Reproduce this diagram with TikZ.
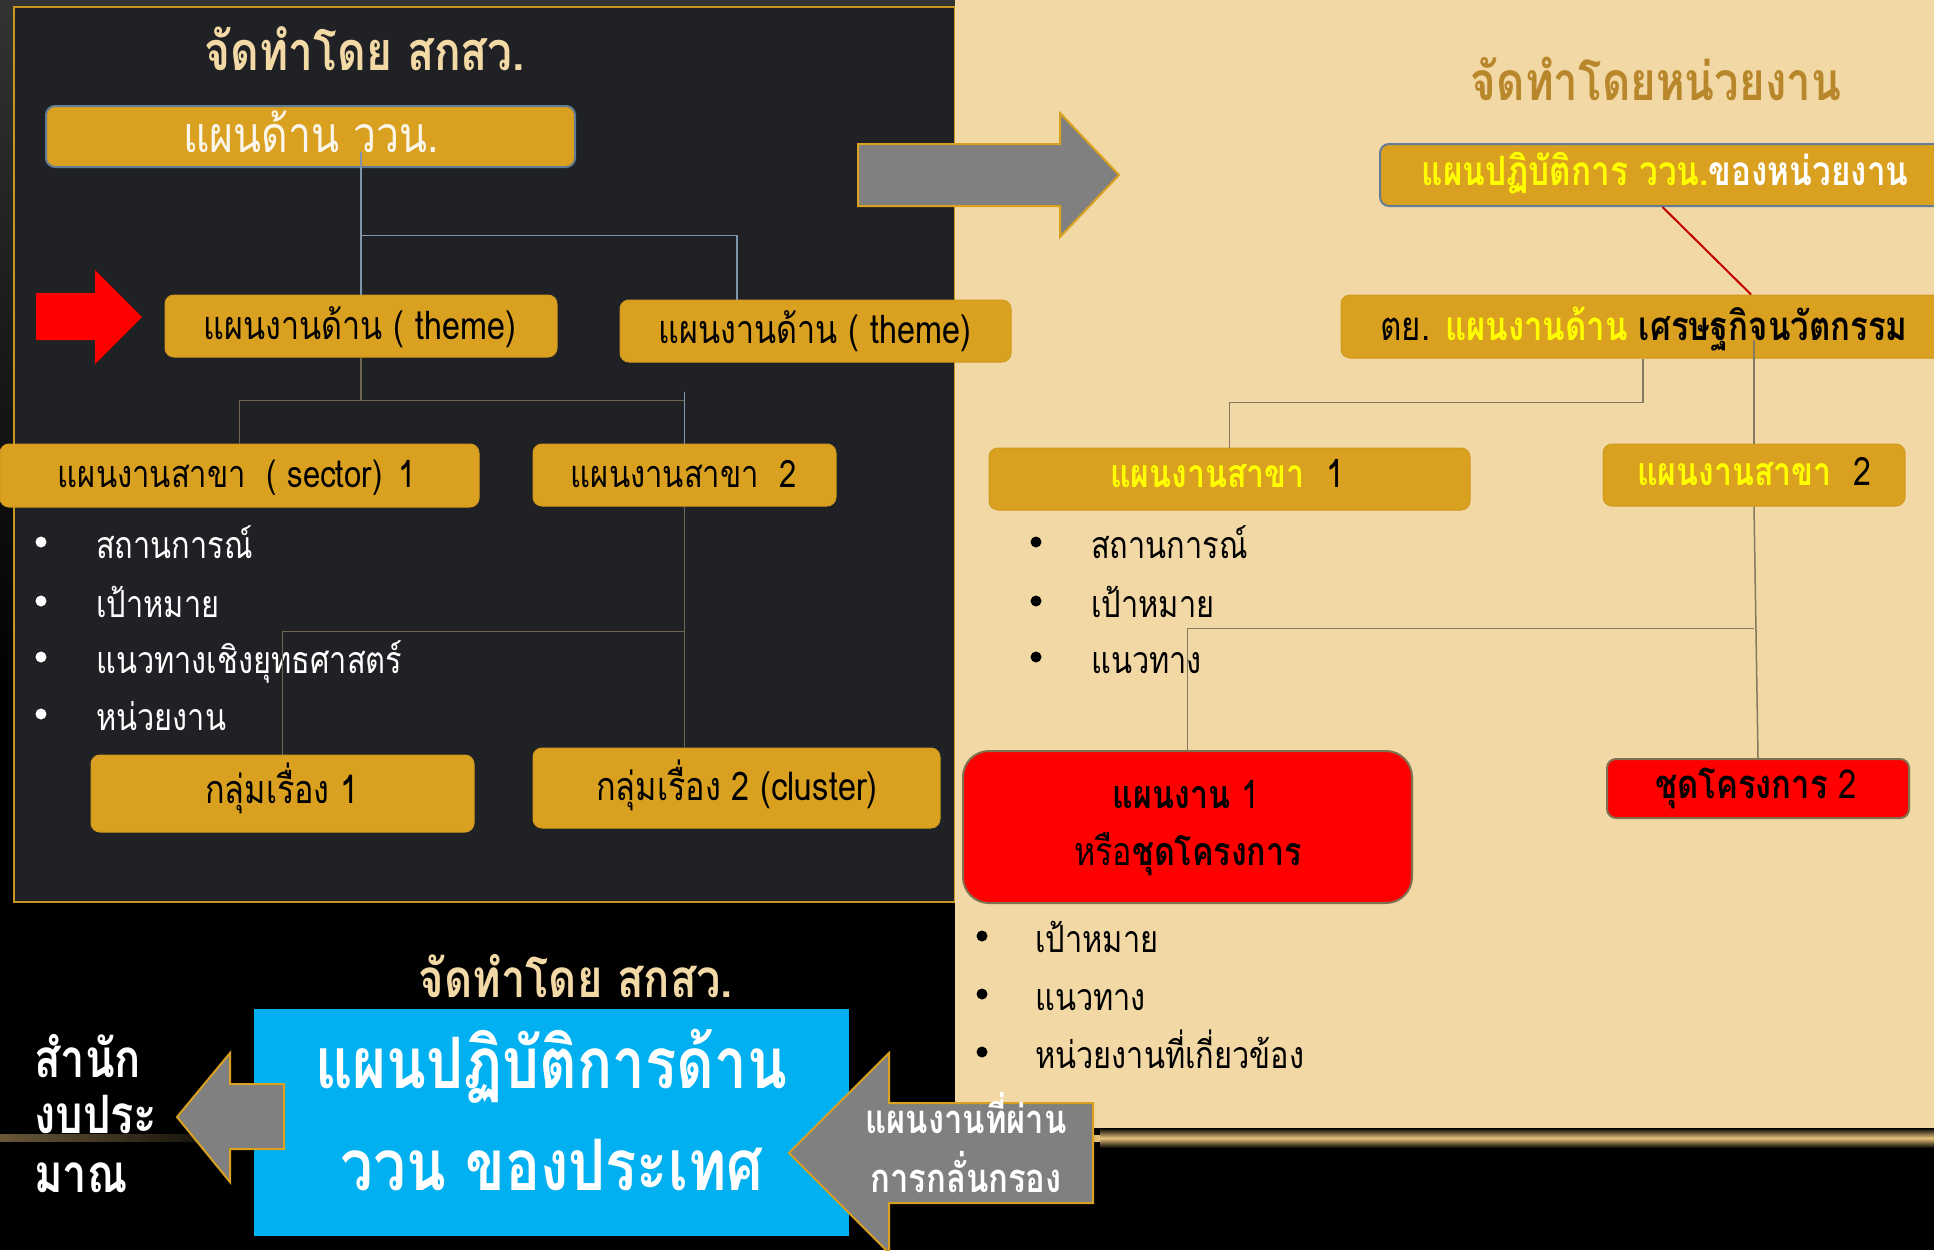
\documentclass[tikz,border=0pt]{standalone}
\usepackage{fontspec}
\newfontfamily\thaifont[Script=Thai,FakeStretch=0.82]{Loma}
\usetikzlibrary{calc}
\definecolor{boxgold}{HTML}{DAA020}
\definecolor{boxedge}{HTML}{D09A1E}
\definecolor{boxblue}{HTML}{647D96}
\definecolor{lineblue}{HTML}{8094AA}
\definecolor{lineolive}{HTML}{6E6650}
\definecolor{lineolivetwo}{HTML}{857A60}
\definecolor{redln}{HTML}{C00000}
\definecolor{paneldark}{HTML}{202124}
\definecolor{panelgold}{HTML}{C8961E}
\definecolor{beige}{HTML}{F2D8A4}
\definecolor{cream}{HTML}{F3D9A5}
\definecolor{whitecream}{HTML}{FAF6EC}
\definecolor{rtitle}{HTML}{B8862B}
\definecolor{arrowgray}{HTML}{808080}
\definecolor{arrowgold}{HTML}{DAA020}
\definecolor{redfill}{HTML}{FF0000}
\definecolor{redge}{HTML}{7F7050}
\definecolor{skyblue}{HTML}{00B0F0}
\definecolor{thyellow}{HTML}{FFFF00}
\definecolor{topgray}{HTML}{333333}
\definecolor{glowgold}{HTML}{E8C27A}
\begin{document}
\begin{tikzpicture}[x=1pt,y=-1pt,
  gbox/.style={rectangle,rounded corners=9pt,fill=boxgold,draw=boxedge,line width=1pt,inner sep=0pt},
  redbox/.style={rectangle,fill=redfill,draw=redge,line width=2pt,inner sep=0pt},
  tx/.style={inner sep=0pt,font=\thaifont\fontsize{#1}{#1}\selectfont},
  tx/.default=39,
  bx/.style={inner sep=0pt,font=\thaifont\bfseries\fontsize{#1}{#1}\selectfont},
  bx/.default=39,
  lnblue/.style={draw=lineblue,line width=1.5pt},
  lnolive/.style={draw=lineolive,line width=1.5pt},
  lnolivetwo/.style={draw=lineolivetwo,line width=1.5pt},
  garrow/.style={fill=arrowgray,draw=arrowgold,line width=2pt,line join=miter}]
\useasboundingbox (0,0) rectangle (1934,1250);
% background
\fill[black] (0,0) rectangle (1934,1250);
\shade[top color=topgray,bottom color=black] (0,0) rectangle (960,700);
\filldraw[fill=paneldark,draw=panelgold,line width=1.5pt] (14,7) rectangle (955,902);
\fill[beige] (955,0) rectangle (1934,1128);
\shade[top color=black,bottom color=black,middle color=glowgold] (1100,1128) rectangle (1934,1148);
\shade[left color=black,right color=glowgold] (953,1135) rectangle (1100,1141);
\shade[left color=glowgold!45!black,right color=black] (0,1134) rectangle (260,1141);

% left panel boxes
\node[gbox,draw=boxblue,line width=2pt,minimum width=529pt,minimum height=61pt] (A) at (310.5,136.5) {};
\node[gbox,minimum width=392pt,minimum height=62pt] (T1) at (361,326) {};
\node[gbox,minimum width=391pt,minimum height=62pt] (T2) at (815.5,331) {};
\node[gbox,minimum width=479pt,minimum height=63pt] (S1) at (239.5,475.5) {};
\node[gbox,minimum width=303pt,minimum height=62pt] (S2) at (684.5,475) {};
\node[gbox,minimum width=383pt,minimum height=77pt] (C1) at (282.5,793.5) {};
\node[gbox,minimum width=407pt,minimum height=80pt] (C2) at (736.5,788) {};

% right panel boxes
\node[gbox,draw=boxblue,line width=2pt,minimum width=565pt,minimum height=62pt] (R1) at (1662.5,175) {};
\node[gbox,minimum width=604pt,minimum height=63pt] (R2) at (1643,326.5) {};
\node[gbox,minimum width=481pt,minimum height=62pt] (R3) at (1229.5,479) {};
\node[gbox,minimum width=302pt,minimum height=62pt] (R4) at (1754,475) {};
\node[redbox,rounded corners=26pt,minimum width=449pt,minimum height=152pt] (R5) at (1187.5,827) {};
\node[redbox,rounded corners=9pt,minimum width=302pt,minimum height=59pt] (R6) at (1758,788.5) {};

% texts left
\node[bx=54,text=cream,anchor=base] (title1) at (365,70) {จัดทำโดย สกสว.};
\node[tx=50,text=whitecream,anchor=base] (At) at (311,152) {แผนด้าน ววน.};
\node[tx=39.4,anchor=base] (T1t) at (360,339) {แผนงานด้าน ( theme)};
\node[tx=39.4,anchor=base] (T2t) at (815,343) {แผนงานด้าน ( theme)};
\node[tx=37.8,anchor=base] (S1t) at (237,487) {แผนงานสาขา\ \ ( sector)\hspace{6pt} 1};
\node[tx=37.8,anchor=base] (S2t) at (684,487) {แผนงานสาขา\ \ 2};
\node[tx=39.5,anchor=base] (C1t) at (282,803) {กลุ่มเรื่อง 1};
\node[tx=39.5,anchor=base] (C2t) at (737,800) {กลุ่มเรื่อง 2 (cluster)};
\foreach \y/\t/\n in {558/สถานการณ์/a,617/เป้าหมาย/b,673/แนวทางเชิงยุทธศาสตร์/c,730/หน่วยงาน/d}{
  \fill[white] (41,\y-16) circle (5.5);
  \node[tx=37.5,text=white,anchor=base west] (L\n) at (96,\y) {\t};
}

% texts right
\node[bx=53.4,text=rtitle,anchor=base] (title2) at (1656,100) {จัดทำโดยหน่วยงาน};
\node[bx=40.6,text=thyellow,anchor=base] (R1t) at (1665,185) {แผนปฏิบัติการ ววน.{\color{white}ของหน่วยงาน}};
\node[bx=40.2,anchor=base] (R2t) at (1644,340) {{\mdseries ตย.} {\color{thyellow}แผนงานด้าน} เศรษฐกิจนวัตกรรม};
\node[tx=39.1,anchor=base] (R3t) at (1227,487) {{\bfseries\color{thyellow}แผนงานสาขา}\ \ 1};
\node[tx=39.1,anchor=base] (R4t) at (1754,485) {{\bfseries\color{thyellow}แผนงานสาขา}\ \ 2};
\node[tx=39.3,anchor=base] (R5ta) at (1186,808) {{\bfseries แผนงาน} 1};
\node[tx=39.3,anchor=base] (R5tb) at (1188,865) {หรือ{\bfseries ชุดโครงการ}};
\node[tx=40,anchor=base] (R6t) at (1756,798) {{\bfseries ชุดโครงการ} 2};
\foreach \y/\t/\n in {558/สถานการณ์/a,617/เป้าหมาย/b,673/แนวทาง/c}{
  \fill[black] (1036,\y-16) circle (5.5);
  \node[tx=37.5,anchor=base west] (M\n) at (1091,\y) {\t};
}
\foreach \y/\t/\n in {952/เป้าหมาย/a,1010/แนวทาง/b,1068/หน่วยงานที่เกี่ยวข้อง/c}{
  \fill[black] (982,\y-16) circle (5.5);
  \node[tx=37.5,anchor=base west] (N\n) at (1035,\y) {\t};
}

% connectors left
\draw[lnblue] (T1.north |- At.base) -- (T1.north);
\coordinate (j0) at ($(T1.north)+(0,-59)$);
\draw[lnblue] (j0) -| ([xshift=-78.5pt]T2.north);
\coordinate (j1) at ($(T1.south)+(0,43)$);
\draw[lnolive] (T1.south) -- (j1);
\draw[lnolive] (S1.north) |- (S2.north |- j1);
\draw[lnblue] ($(S2.north)+(0,-52)$) -- (S2.north);
\coordinate (j2) at ($(S2.south)+(0,125)$);
\draw[lnolive] (S2.south) -- (S2.south |- C2.north);
\draw[lnolive] (j2) -| (C1.north);

% connectors right
\draw[redln,line width=2pt] (R1.south) -- ([xshift=108pt]R2.north);
\draw[lnolivetwo] (R2.south) -- ++(0,44) -| (R3.north);
\draw[lnolivetwo] (R4.north |- R2t.base) -- (R4.north);
\draw[lnolivetwo] (R4.south) -- (R6.north);
\draw[lnolivetwo] ($(R4.south)+(0,122)$) -| (R5.north);

% arrows top
\draw[garrow] (858,144) -- (1060,144) -- (1060,113) -- (1119,175) -- (1060,237) -- (1060,206) -- (858,206) -- cycle;
\fill[redfill] (36,293) -- (95,293) -- (95,270) -- (142,317) -- (95,364) -- (95,340) -- (36,340) -- cycle;

% bottom
\node[bx=53,text=cream,anchor=base] (title3) at (576,997) {จัดทำโดย สกสว.};
\node[fill=skyblue,minimum width=595pt,minimum height=227pt,inner sep=0pt] (B) at (551.5,1122.5) {};
\node[bx=71,text=white,anchor=base] (Bta) at (551,1088) {แผนปฏิบัติการด้าน};
\node[bx=71,text=white,anchor=base] (Btb) at (552,1190) {ววน ของประเทศ};
\draw[garrow] (284,1084) -- (230,1084) -- (230,1053) -- (177,1117) -- (230,1182) -- (230,1149) -- (284,1149) -- cycle;
\node[bx=53,text=white,anchor=base west] (Ka) at (34,1077) {สำนัก};
\node[bx=53,text=white,anchor=base west] (Kb) at (34,1133) {งบประ};
\node[bx=53,text=white,anchor=base west] (Kc) at (34,1192) {มาณ};
\draw[garrow] (1093,1103) -- (889,1103) -- (889,1053) -- (789,1153) -- (889,1253) -- (889,1203) -- (1093,1203) -- cycle;
\node[bx=40,text=white,anchor=base] (Pa) at (966,1133) {แผนงานที่ผ่าน};
\node[bx=40,text=white,anchor=base] (Pb) at (966,1192) {การกลั่นกรอง};
\end{tikzpicture}
\end{document}
